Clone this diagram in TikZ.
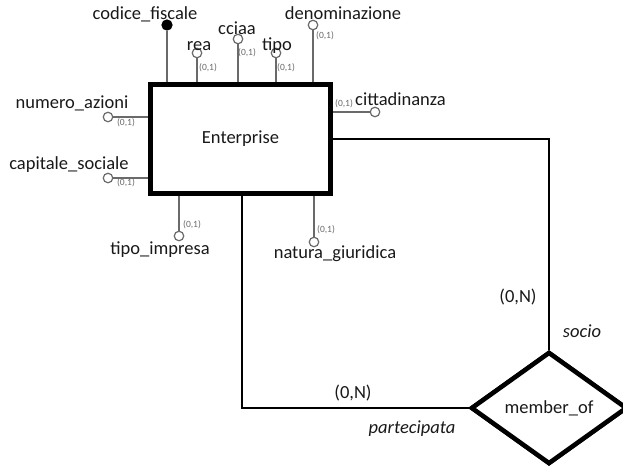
\documentclass[tikz,border=0pt]{standalone}
\usepackage{fontspec}
\setmainfont{Carlito}
\usetikzlibrary{shapes.geometric}
\definecolor{attrgray}{HTML}{6A6A6A}
\begin{document}
\begin{tikzpicture}[x=1pt,y=-1pt,
  lbl/.style={anchor=base,inner sep=0pt,font=\fontsize{18.5}{22}\selectfont,text=black!90},
  card/.style={anchor=base,inner sep=0pt,font=\fontsize{9.5}{11}\selectfont,text=attrgray},
  role/.style={lbl,font=\fontsize{18.5}{22}\selectfont\itshape},
  attr/.style={circle,draw=attrgray,fill=white,line width=1.2pt,minimum size=9.5pt,inner sep=0pt},
  keyattr/.style={circle,draw=black,fill=black,line width=1.2pt,minimum size=10pt,inner sep=0pt},
  attrline/.style={draw=attrgray,line width=1.6pt},
  entitybox/.style={rectangle,draw=black,line width=5pt,fill=white,minimum width=180pt,minimum height=109pt,inner sep=0pt,font=\fontsize{18.5}{22}\selectfont,text=black!90},
  relbox/.style={diamond,draw=black,line width=4.5pt,fill=white,minimum width=156pt,minimum height=112pt,inner sep=0pt,font=\fontsize{18.5}{22}\selectfont,text=black!90},
  link/.style={draw=black,line width=2pt}]
\useasboundingbox (0,0) rectangle (623,469);

% relationship links (drawn first, under the shapes)
\node[entitybox] (ent) at (240.5,139) {};
\node[relbox] (rel) at (549,408) {};
\draw[link] (ent.east) -| (rel.north);
\draw[link] (ent.south -| 242,0) |- (rel.west);
\node[entitybox] (ent2) at (240.5,139) {Enterprise};
\node[relbox] (rel2) at (549,408) {member\_of};

% attribute circles
\node[keyattr] (cf) at (167,25) {};
\node[attr] (rea) at (197,53) {};
\node[attr] (cciaa) at (238,39) {};
\node[attr] (tipo) at (276,53) {};
\node[attr] (den) at (313,25) {};
\node[attr] (na) at (108,117) {};
\node[attr] (cs) at (108,178) {};
\node[attr] (cit) at (375,112) {};
\node[attr] (ti) at (179,236) {};
\node[attr] (ng) at (314,242) {};

% attribute links
\draw[attrline] (cf) -- (cf |- ent2.north);
\draw[attrline] (rea) -- (rea |- ent2.north);
\draw[attrline] (cciaa) -- (cciaa |- ent2.north);
\draw[attrline] (tipo) -- (tipo |- ent2.north);
\draw[attrline] (den) -- (den |- ent2.north);
\draw[attrline] (na) -- (na -| ent2.west);
\draw[attrline] (cs) -- (cs -| ent2.west);
\draw[attrline] (cit) -- (cit -| ent2.east);
\draw[attrline] (ti) -- (ti |- ent2.south);
\draw[attrline] (ng) -- (ng |- ent2.south);
\node[entitybox,fill=none,draw=black] (ent3) at (240.5,139) {};

% attribute names
\node[lbl] (t_cf) at (145,19) {codice\_fiscale};
\node[lbl] (t_rea) at (199,50) {rea};
\node[lbl] (t_cciaa) at (237,34) {cciaa};
\node[lbl] (t_tipo) at (277,50) {tipo};
\node[lbl] (t_den) at (343,19) {denominazione};
\node[lbl] (t_na) at (72,108) {numero\_azioni};
\node[lbl] (t_cs) at (69,169) {capitale\_sociale};
\node[lbl,anchor=base west] (t_cit) at (355,105) {cittadinanza};
\node[lbl] (t_ti) at (160,254) {tipo\_impresa};
\node[lbl] (t_ng) at (335,258) {natura\_giuridica};

% attribute cardinalities
\node[card] (c_rea) at (208,70) {(0,1)};
\node[card] (c_cciaa) at (247,55) {(0,1)};
\node[card] (c_tipo) at (286,70) {(0,1)};
\node[card] (c_den) at (325,38) {(0,1)};
\node[card] (c_na) at (126,125) {(0,1)};
\node[card] (c_cs) at (126,185) {(0,1)};
\node[card] (c_cit) at (344,106) {(0,1)};
\node[card] (c_ti) at (192,227) {(0,1)};
\node[card] (c_ng) at (326,232) {(0,1)};

% roles and cardinalities of the relationship
\node[lbl] (c_socio) at (518,302) {(0,N)};
\node[role] (r_socio) at (582,337) {socio};
\node[lbl] (c_part) at (353,398) {(0,N)};
\node[role] (r_part) at (412,433) {partecipata};
\end{tikzpicture}
\end{document}
